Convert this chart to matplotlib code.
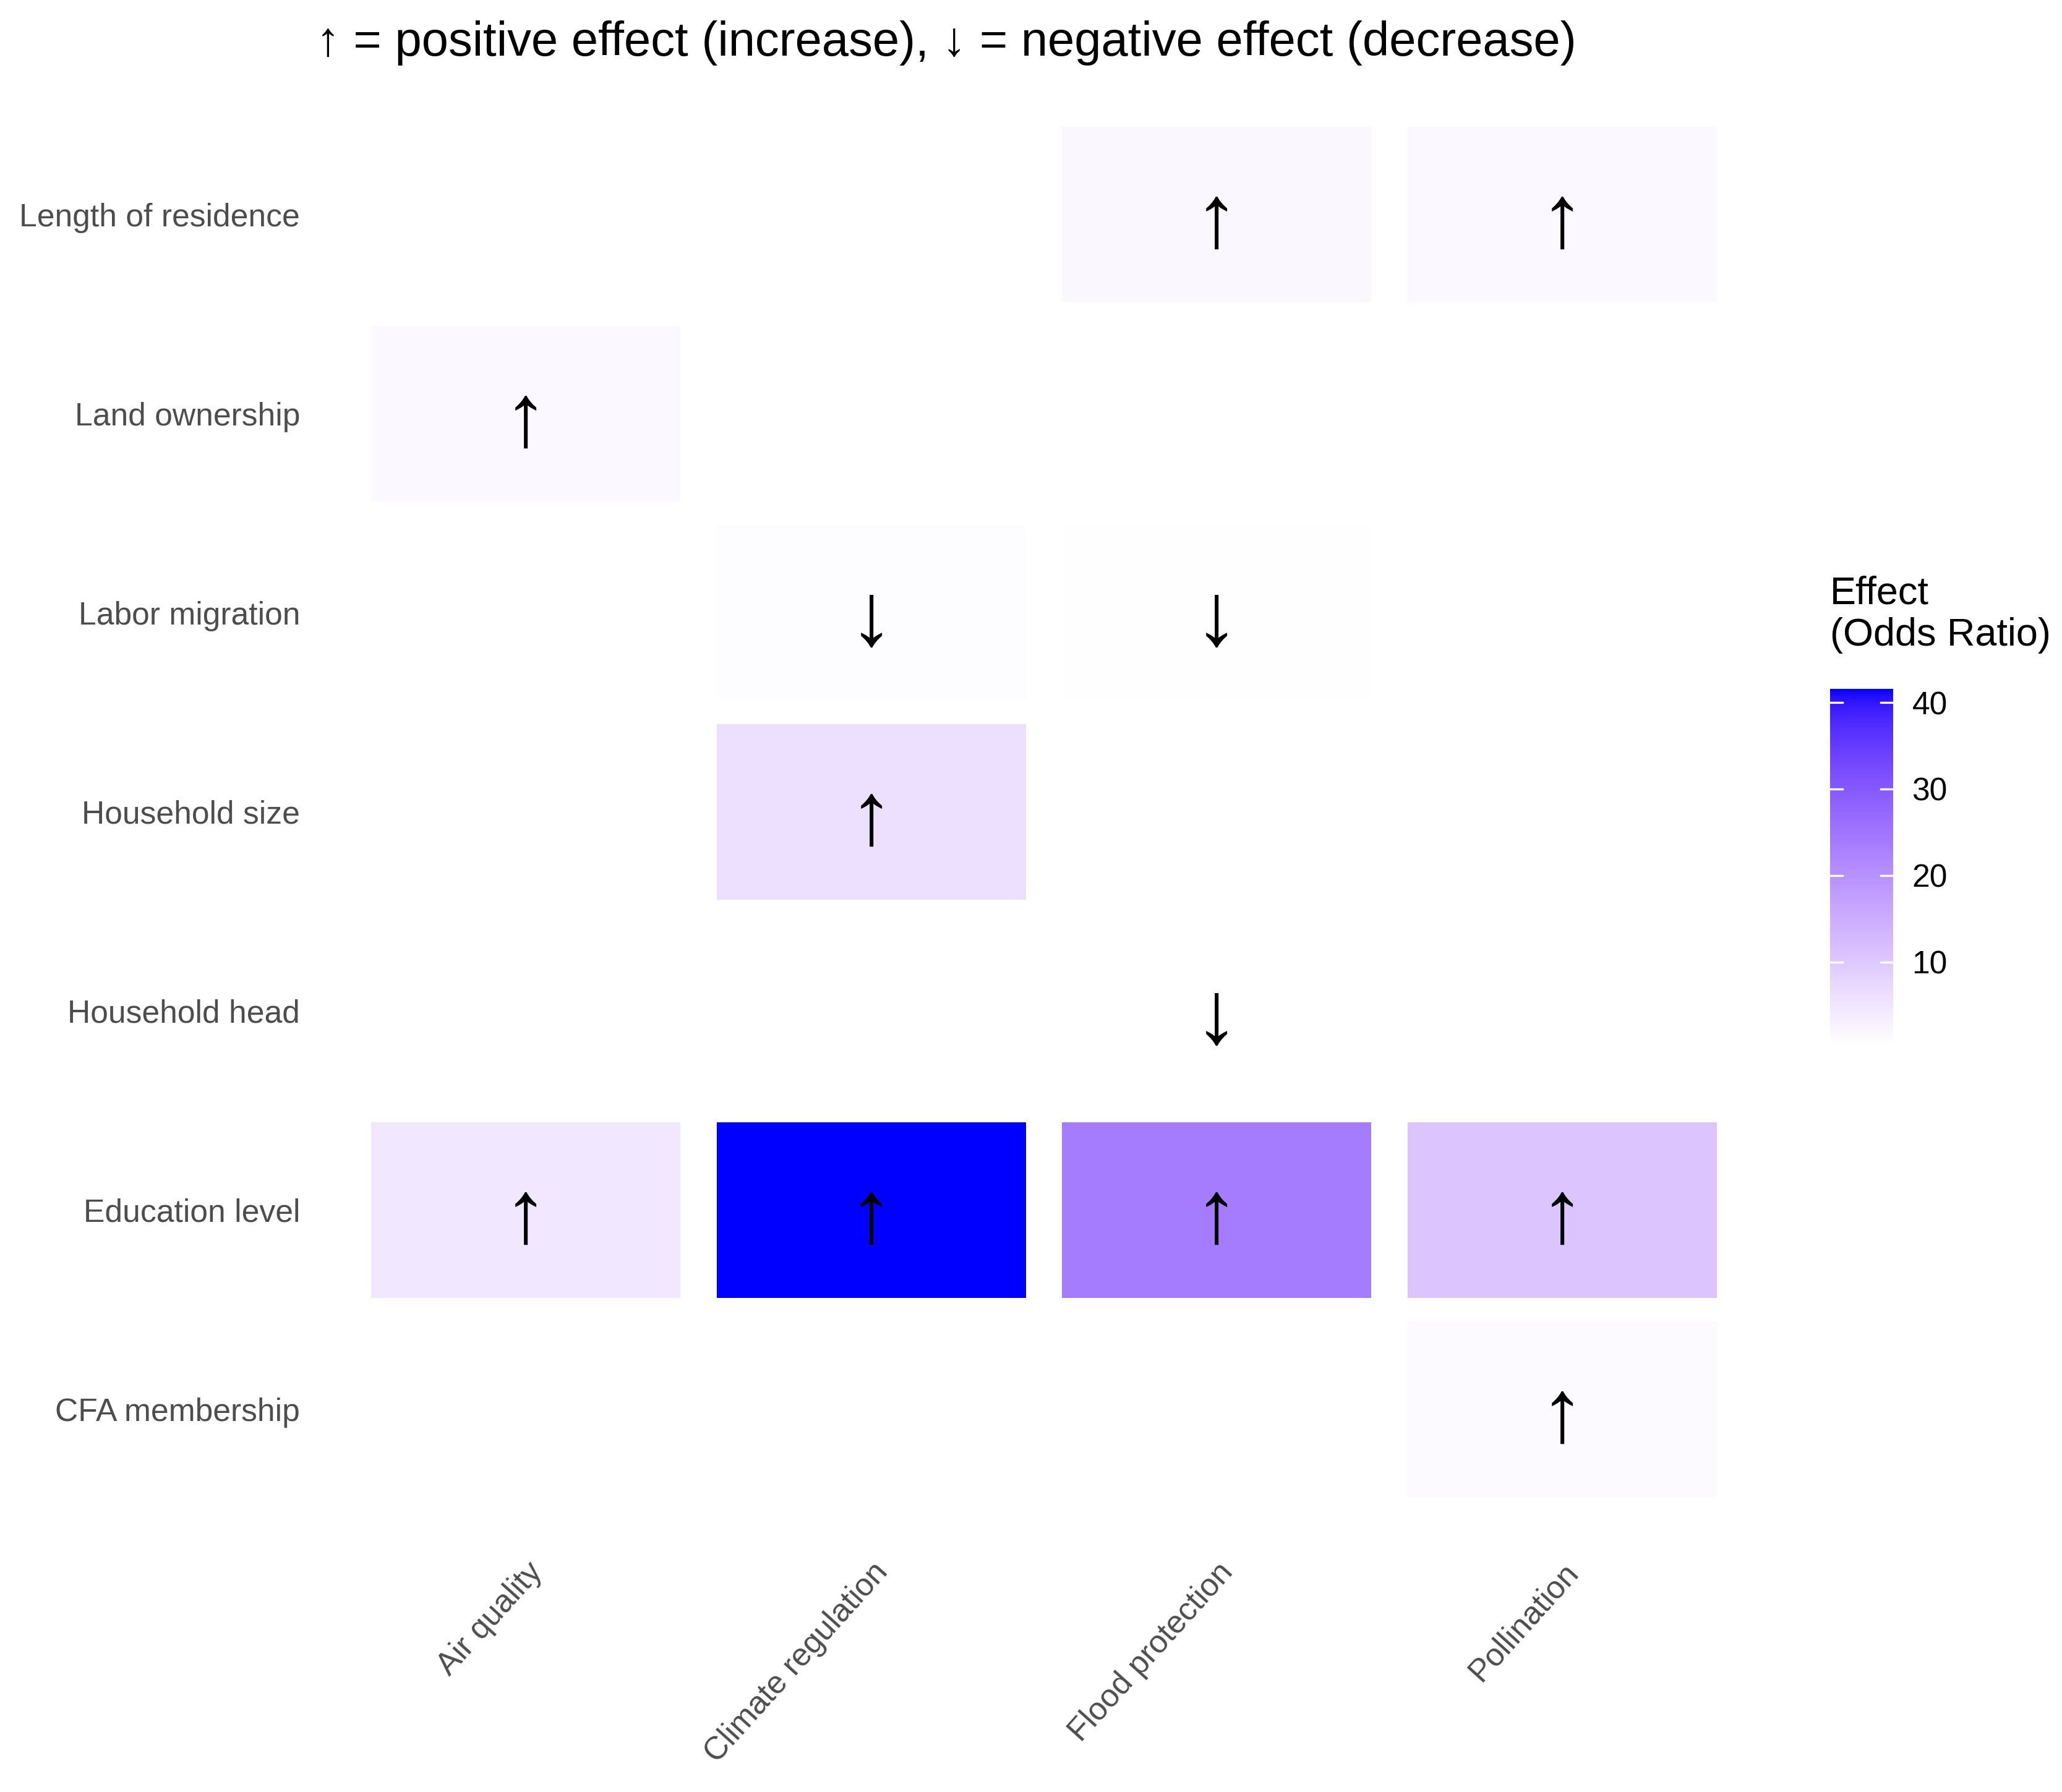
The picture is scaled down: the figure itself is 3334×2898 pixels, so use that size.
import numpy as np
import matplotlib
matplotlib.use("Agg")
import matplotlib.pyplot as plt
from matplotlib.colors import ListedColormap, Normalize
from matplotlib.cm import ScalarMappable

# factor (rows) and ecosystem service (columns), alphabetical like ggplot
ROWS = ["CFA membership", "Education level", "Household head", "Household size",
        "Labor migration", "Land ownership", "Length of residence"]
COLS = ["Air quality", "Climate regulation", "Flood protection", "Pollination"]

cell_row = ["Length of residence", "Length of residence", "Land ownership",
            "Labor migration", "Labor migration", "Household size",
            "Household head", "Education level", "Education level",
            "Education level", "Education level", "CFA membership"]
cell_col = ["Flood protection", "Pollination", "Air quality",
            "Climate regulation", "Flood protection", "Climate regulation",
            "Flood protection", "Air quality", "Climate regulation",
            "Flood protection", "Pollination", "Pollination"]
odds_ratio = [1.9, 1.8, 1.6, 0.9, 0.8, 6.0, 0.4, 4.6, 41.6, 23.8, 10.6, 1.5]
direction = ["up", "up", "up", "down", "down", "up", "down", "up", "up", "up", "up", "up"]

TEXT_FONT = ["Liberation Sans", "DejaVu Sans"]


def lab_to_rgb(L, a, b):
    fy = (L + 16) / 116
    fx = fy + a / 500
    fz = fy - b / 200

    def finv(t):
        return np.where(t > 6 / 29, t ** 3, 3 * (6 / 29) ** 2 * (t - 4 / 29))

    X = 0.95047 * finv(fx)
    Y = finv(fy)
    Z = 1.08883 * finv(fz)
    r = 3.2406 * X - 1.5372 * Y - 0.4986 * Z
    g = -0.9689 * X + 1.8758 * Y + 0.0415 * Z
    bl = 0.0557 * X - 0.2040 * Y + 1.0570 * Z
    rgb = np.clip(np.stack([r, g, bl], axis=-1), 0, None)
    rgb = np.where(rgb <= 0.0031308, 12.92 * rgb, 1.055 * rgb ** (1 / 2.4) - 0.055)
    return np.clip(rgb, 0, 1)


# white -> blue, interpolated in Lab space (scale_fill_gradient look)
t = np.linspace(0, 1, 256)
cmap = ListedColormap(lab_to_rgb(100 - 67.70 * t, 79.19 * t, -107.86 * t))
norm = Normalize(vmin=min(odds_ratio), vmax=max(odds_ratio))

plt.rcParams["font.family"] = TEXT_FONT

fig = plt.figure(figsize=(16.67, 14.49), dpi=200)
ax = fig.add_axes([0.1713, 0.158, 0.670, 0.778])

xs = [COLS.index(c) + 1 for c in cell_col]
ys = [ROWS.index(r) + 1 for r in cell_row]
colors = cmap(norm(np.array(odds_ratio)))
ax.bar(xs, 0.88, width=0.895, bottom=np.array(ys) - 0.44, color=colors, linewidth=0)

for x, y, d in zip(xs, ys, direction):
    ax.text(x, y - 0.045, "\u2191" if d == "up" else "\u2193", ha="center", va="center",
            fontsize=52, color="black")

ax.set_xlim(0.5, 4.5)
ax.set_ylim(0.5, 7.5)
ax.set_xticks(range(1, len(COLS) + 1))
ax.set_xticklabels(COLS, rotation=48, ha="right", va="top", rotation_mode="anchor")
ax.set_yticks(range(1, len(ROWS) + 1))
ax.set_yticklabels(ROWS)
ax.tick_params(axis="both", length=0, labelsize=18.6, labelcolor="#4D4D4D")
ax.tick_params(axis="y", pad=31)
ax.tick_params(axis="x", pad=28)
for s in ax.spines.values():
    s.set_visible(False)

fig.text(0.459, 0.976, "\u2191 = positive effect (increase), \u2193 = negative effect (decrease)",
         ha="center", va="center", fontsize=28, color="black")

# colourbar legend
cax = fig.add_axes([0.8875, 0.4169, 0.0306, 0.1988])
cb = fig.colorbar(ScalarMappable(norm=norm, cmap=cmap), cax=cax)
cb.outline.set_visible(False)
cb.set_ticks([10, 20, 30, 40])
cax.tick_params(length=0, labelsize=18.6, labelcolor="black", pad=11)
for v in [10, 20, 30, 40]:
    cax.axhline(v, xmin=0, xmax=0.2, color="white", linewidth=1.2)
    cax.axhline(v, xmin=0.8, xmax=1, color="white", linewidth=1.2)

fig.text(0.8875, 0.679, "Effect\n(Odds Ratio)", ha="left", va="top",
         fontsize=22.7, color="black", linespacing=1.2)

fig.savefig("out.png", dpi=200, facecolor="white")
